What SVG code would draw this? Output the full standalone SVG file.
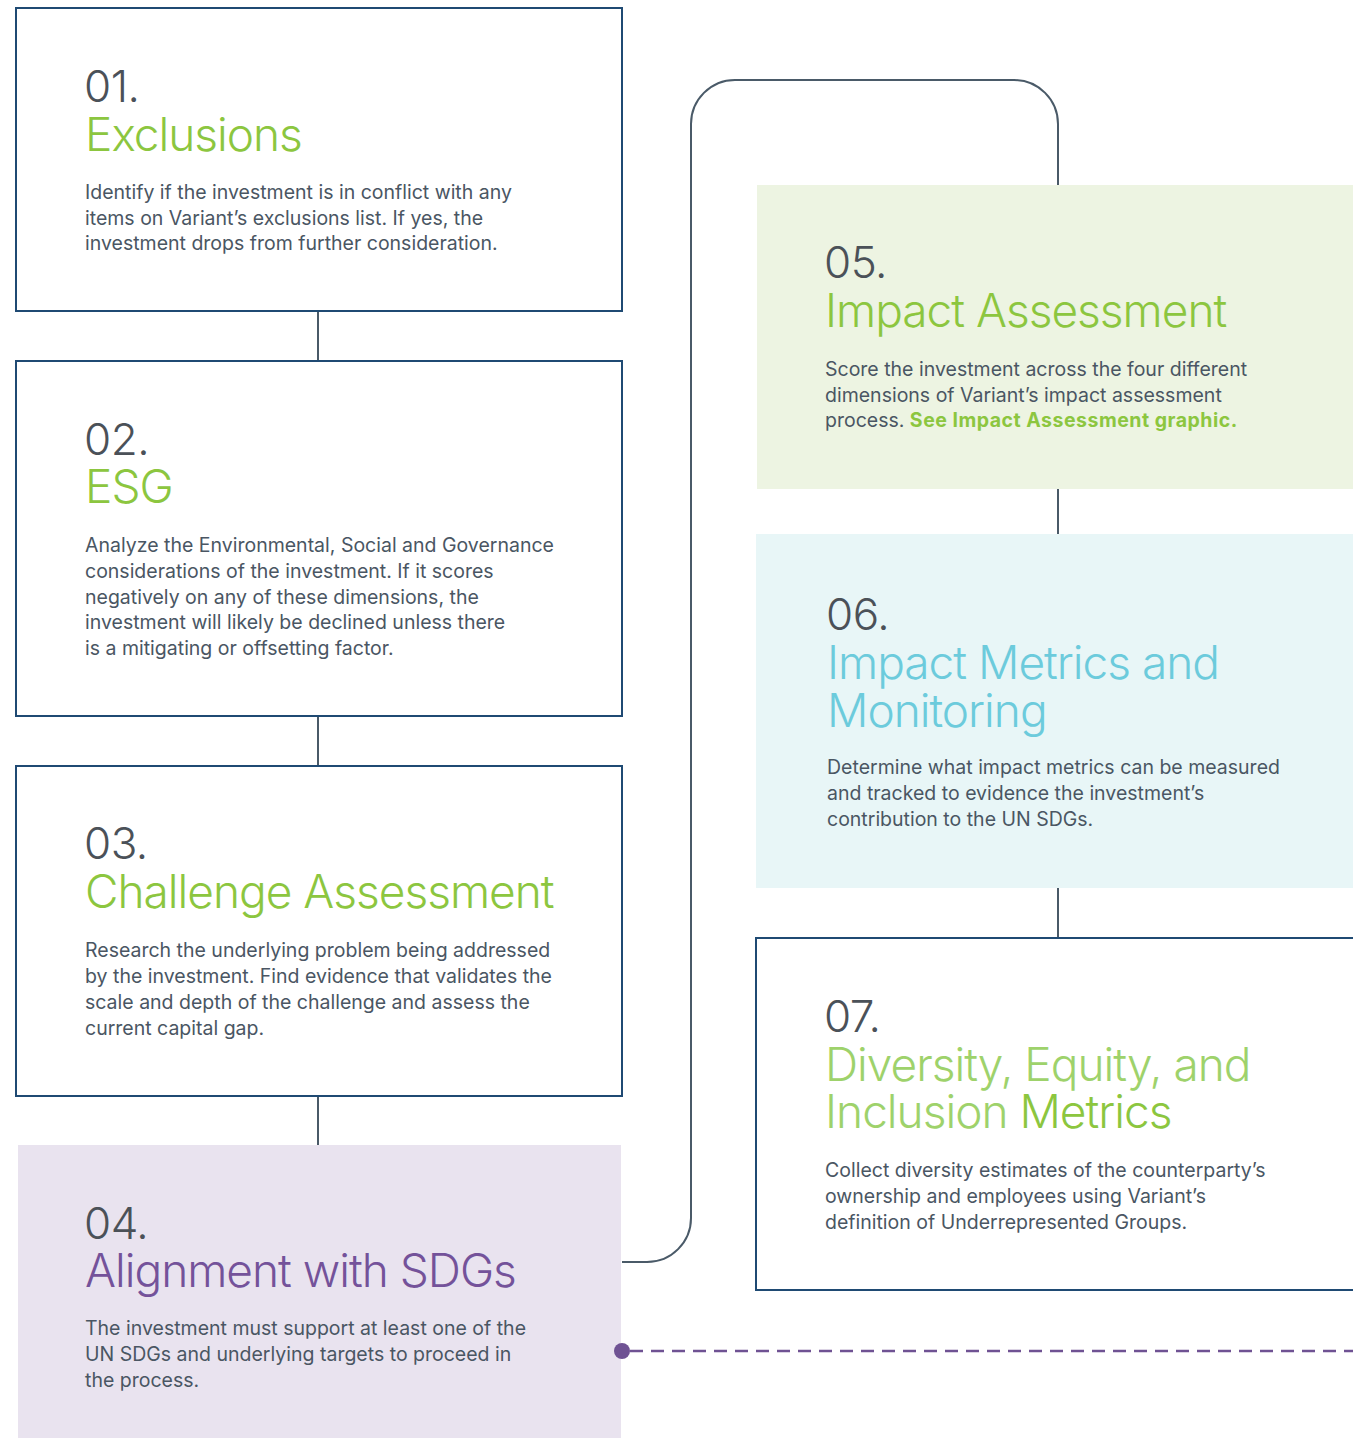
<svg xmlns="http://www.w3.org/2000/svg" width="1353" height="1438" viewBox="0 0 1353 1438">
<style>
.box{fill:#ffffff;stroke:#1f4a73;stroke-width:2}
.conn{fill:none;stroke:#4a5a68;stroke-width:2}
.num{font-family:Inter,"Liberation Sans",sans-serif;font-weight:300;font-size:44px;fill:#4b5158;letter-spacing:-0.5px}
.title{font-family:Inter,"Liberation Sans",sans-serif;font-weight:300;font-size:46px;letter-spacing:-1px}
.green{fill:#8cc63f}
.lgreen{fill:#9ed26b}
.cyan{fill:#6ccbdc}
.purple{fill:#74529a}
.body{font-family:Inter,"Liberation Sans",sans-serif;font-weight:400;font-size:19.5px;fill:#4a5663;letter-spacing:0px}
.link{font-weight:700;fill:#8cc63f;letter-spacing:0.5px}
</style>
<rect width="1353" height="1438" fill="#ffffff"/>
<g id="node01">
<rect class="box" x="16" y="8" width="606" height="303"/>
<text class="num" x="84" y="102">01.</text>
<text class="title green" x="85" y="151">Exclusions</text>
<text class="body"><tspan x="85" y="199">Identify if the investment is in conflict with any</tspan><tspan x="85" y="224.5">items on Variant’s exclusions list. If yes, the</tspan><tspan x="85" y="250">investment drops from further consideration.</tspan></text>
</g>
<g id="node02">
<rect class="box" x="16" y="361" width="606" height="355"/>
<text class="num" x="84" y="455">02.</text>
<text class="title green" x="85" y="503">ESG</text>
<text class="body"><tspan x="85" y="552">Analyze the Environmental, Social and Governance</tspan><tspan x="85" y="578">considerations of the investment. If it scores</tspan><tspan x="85" y="603.5">negatively on any of these dimensions, the</tspan><tspan x="85" y="629">investment will likely be declined unless there</tspan><tspan x="85" y="655">is a mitigating or offsetting factor.</tspan></text>
</g>
<g id="node03">
<rect class="box" x="16" y="766" width="606" height="330"/>
<text class="num" x="84" y="859">03.</text>
<text class="title green" x="85" y="908">Challenge Assessment</text>
<text class="body"><tspan x="85" y="957">Research the underlying problem being addressed</tspan><tspan x="85" y="983">by the investment. Find evidence that validates the</tspan><tspan x="85" y="1009">scale and depth of the challenge and assess the</tspan><tspan x="85" y="1035">current capital gap.</tspan></text>
</g>
<g id="node04">
<rect x="18" y="1145" width="603" height="293" fill="#e9e3ef"/>
<text class="num" x="84" y="1239">04.</text>
<text class="title purple" x="85" y="1287">Alignment with SDGs</text>
<text class="body"><tspan x="85" y="1335">The investment must support at least one of the</tspan><tspan x="85" y="1361">UN SDGs and underlying targets to proceed in</tspan><tspan x="85" y="1387">the process.</tspan></text>
</g>
<g id="node05">
<rect x="757" y="185" width="596" height="304" fill="#edf4e2"/>
<text class="num" x="824" y="278">05.</text>
<text class="title green" x="825" y="327">Impact Assessment</text>
<text class="body"><tspan x="825" y="376">Score the investment across the four different</tspan><tspan x="825" y="402">dimensions of Variant’s impact assessment</tspan><tspan x="825" y="427">process. <tspan class="link">See Impact Assessment graphic.</tspan></tspan></text>
</g>
<g id="node06">
<rect x="756" y="534" width="597" height="354" fill="#e8f6f7"/>
<text class="num" x="826" y="630">06.</text>
<text class="title cyan"><tspan x="827" y="679">Impact Metrics and</tspan><tspan x="827" y="727">Monitoring</tspan></text>
<text class="body"><tspan x="827" y="774">Determine what impact metrics can be measured</tspan><tspan x="827" y="800">and tracked to evidence the investment’s</tspan><tspan x="827" y="826">contribution to the UN SDGs.</tspan></text>
</g>
<g id="node07">
<rect class="box" x="756" y="938" width="610" height="352"/>
<text class="num" x="824" y="1032">07.</text>
<text class="title"><tspan class="lgreen" x="825" y="1081">Diversity, Equity, and</tspan><tspan class="lgreen" x="825" y="1128">Inclusion </tspan><tspan class="green">Metrics</tspan></text>
<text class="body"><tspan x="825" y="1177">Collect diversity estimates of the counterparty’s</tspan><tspan x="825" y="1203">ownership and employees using Variant’s</tspan><tspan x="825" y="1229">definition of Underrepresented Groups.</tspan></text>
</g>
<g id="connectors">
<line class="conn" x1="318" y1="312" x2="318" y2="360"/>
<line class="conn" x1="318" y1="717" x2="318" y2="765"/>
<line class="conn" x1="318" y1="1097" x2="318" y2="1145"/>
<line class="conn" x1="1058" y1="489" x2="1058" y2="534"/>
<line class="conn" x1="1058" y1="888" x2="1058" y2="937"/>
<path class="conn" d="M622,1262 H647 A44,44 0 0 0 691,1218 V124 A44,44 0 0 1 735,80 H1014 A44,44 0 0 1 1058,124 V185"/>
<line x1="630" y1="1351" x2="1353" y2="1351" stroke="#6f5293" stroke-width="2.5" stroke-dasharray="13 8"/>
<circle cx="622" cy="1351" r="8" fill="#6f5293"/>
</g>
</svg>
